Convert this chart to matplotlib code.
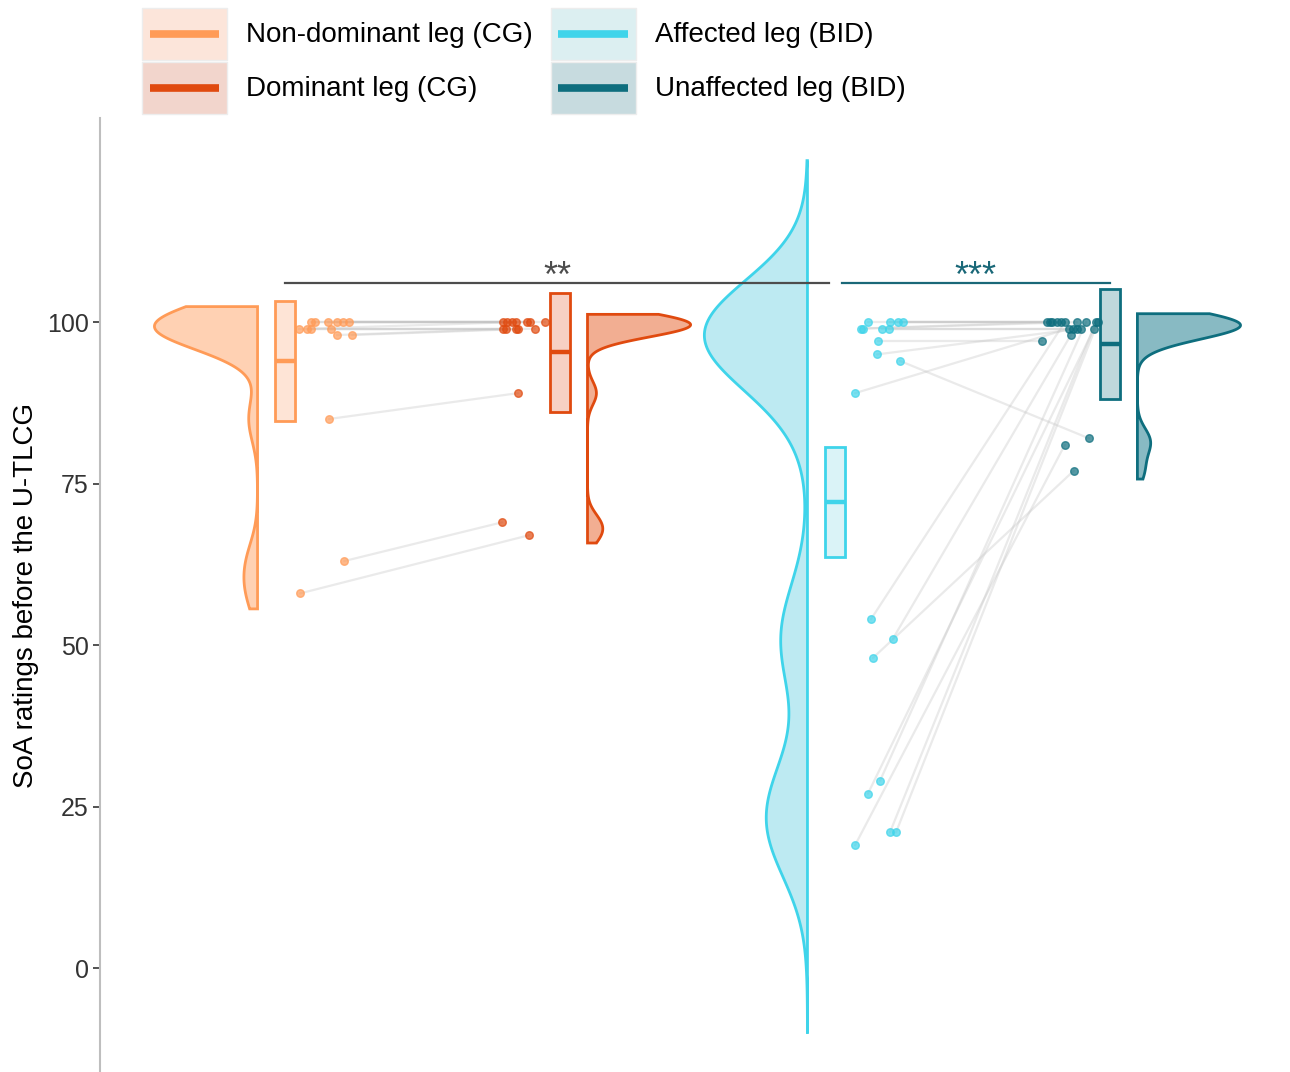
import numpy as np
import matplotlib
matplotlib.use("Agg")
import matplotlib.pyplot as plt
from matplotlib.patches import Rectangle
from matplotlib.lines import Line2D

plt.rcParams['font.family'] = ['Liberation Sans', 'DejaVu Sans']

# groups
labels = ["Non-dominant leg (CG)", "Dominant leg (CG)",
          "Affected leg (BID)", "Unaffected leg (BID)"]
colors = ["#FF9B57", "#E04A0F", "#3FD4EA", "#0E6E7E"]
cloud_fill = ["#FFD1B3", "#F2AE92", "#BDEAF2", "#88BAC3"]
box_fill = ["#FEE4D6", "#F7D0C3", "#DAF3F7", "#BFD8DC"]
key_fill = ["#FCE5DA", "#F2D5CC", "#DCEFF1", "#C7DBDF"]

# SoA ratings, paired by index within each group (CG: 1-2, BID: 3-4)
nondom_cg = [100, 100, 100, 100, 100, 100, 99, 99, 99, 99, 98, 98, 85, 63, 58]
dom_cg = [100, 100, 100, 100, 100, 100, 99, 99, 100, 99, 99, 99, 89, 69, 67]
affected_bid = [100, 100, 100, 100, 99, 99, 99, 99, 97, 95, 94, 89,
                54, 51, 48, 29, 27, 21, 21, 19]
unaffected_bid = [100, 100, 100, 100, 100, 100, 99, 99, 97, 99, 82, 99,
                  100, 98, 77, 100, 99, 100, 100, 81]

# box summaries (mean and interval)
box_mid = [94.0, 95.4, 72.1, 96.6]
box_lo = [84.7, 86.1, 63.6, 88.1]
box_hi = [103.3, 104.5, 80.7, 105.1]

# horizontal jitter of the dots
jit1 = [0.095, 0.109, 0.156, 0.189, 0.211, 0.233, 0.051, 0.080, 0.095, 0.167,
        0.189, 0.244, 0.160, 0.215, 0.055]
jit2 = [-0.207, -0.193, -0.175, -0.120, -0.109, -0.055, -0.207, -0.196, -0.160,
        -0.160, -0.153, -0.091, -0.153, -0.211, -0.113]
jit3 = [0.120, 0.200, 0.229, 0.247, 0.095, 0.102, 0.171, 0.196, 0.156, 0.153,
        0.236, 0.073, 0.131, 0.211, 0.138, 0.164, 0.120, 0.200, 0.222, 0.073]
jit4 = [-0.229, -0.211, -0.193, -0.178, -0.218, -0.120, -0.135, -0.120, -0.247,
        -0.105, -0.076, -0.149, -0.164, -0.142, -0.131, -0.087, -0.058, -0.051,
        -0.044, -0.164]

# kde bandwidth and how far past the data each cloud runs (below, above)
bandwidth = [3.5, 1.8, 8.0, 2.0]
cut_lo = [2.4, 1.2, 29.0, 1.3]
cut_hi = [2.4, 1.2, 25.0, 1.3]

sig_text = ["**", "***"]

groups = [nondom_cg, dom_cg, affected_bid, unaffected_bid]
jitters = [jit1, jit2, jit3, jit4]
positions = [1, 2, 3, 4]
side = [-1, 1, -1, 1]      # which way the half violin opens


def kde(vals, grid, bw):
    vals = np.asarray(vals, dtype=float)
    d = (grid[:, None] - vals[None, :]) / bw
    return np.exp(-0.5 * d ** 2).sum(axis=1)


class KeyHandler:
    # shaded square with a short thick bar across the middle
    def __init__(self, bg):
        self.bg = bg

    def legend_artist(self, legend, orig_handle, fontsize, handlebox):
        x0, y0 = -handlebox.xdescent, -handlebox.ydescent
        w, h = handlebox.width, handlebox.height
        rect = Rectangle((x0, y0), w, h, facecolor=self.bg,
                         edgecolor='#EDEDED', lw=1,
                         transform=handlebox.get_transform())
        bar = Line2D([x0 + 0.09 * w, x0 + 0.91 * w], [y0 + h / 2, y0 + h / 2],
                     color=orig_handle.get_color(), lw=5.5,
                     solid_capstyle='butt',
                     transform=handlebox.get_transform())
        handlebox.add_artist(rect)
        handlebox.add_artist(bar)
        return rect


fig = plt.figure(figsize=(12.9, 10.72), dpi=100)
ax = fig.add_axes([100 / 1290, 0, 1190 / 1290, (1072 - 118) / 1072])
ax.set_xlim(0.327, 4.655)
ax.set_ylim(-16.1, 131.6)

vwidth = 0.375
box_w = 0.073

# half violins
for i, vals in enumerate(groups):
    lo = min(vals) - cut_lo[i]
    hi = max(vals) + cut_hi[i]
    grid = np.linspace(lo, hi, 400)
    dens = kde(vals, grid, bandwidth[i])
    dens = dens / dens.max() * vwidth
    base = positions[i] + side[i] * 0.1
    xs = np.concatenate([[base], base + side[i] * dens, [base]])
    ys = np.concatenate([[lo], grid, [hi]])
    ax.fill(xs, ys, facecolor=cloud_fill[i], edgecolor=colors[i], lw=2,
            zorder=1)

# paired lines
pairs = [(0, 1), (2, 3)]
for a, b in pairs:
    for k in range(len(groups[a])):
        xa = positions[a] + jitters[a][k]
        xb = positions[b] + jitters[b][k]
        ax.plot([xa, xb], [groups[a][k], groups[b][k]], color='#C4C4C4',
                alpha=0.35, lw=1.6, zorder=2, solid_capstyle='round')

# dots
for i, vals in enumerate(groups):
    xs = positions[i] + np.array(jitters[i])
    ax.scatter(xs, vals, s=30, facecolor=colors[i], edgecolor=colors[i],
               alpha=0.7, lw=1, zorder=4)

# boxes
for i in range(4):
    ax.bar(positions[i], box_hi[i] - box_lo[i], bottom=box_lo[i], width=box_w,
           facecolor=box_fill[i], edgecolor=colors[i], lw=2, zorder=3)
    ax.plot([positions[i] - box_w / 2, positions[i] + box_w / 2],
            [box_mid[i], box_mid[i]], color=colors[i], lw=3.2, zorder=3.6,
            solid_capstyle='butt')

# significance brackets
ax.plot([1, 2.98], [106, 106], color='#4D4D4D', lw=1.6, zorder=5)
ax.text(1.99, 105.4, sig_text[0], ha='center', va='baseline', fontsize=26,
        color='#4D4D4D')
ax.plot([3.025, 4], [106, 106], color='#1A6878', lw=1.6, zorder=5)
ax.text(3.51, 105.4, sig_text[1], ha='center', va='baseline', fontsize=26,
        color='#1A6878')

# axes styling
for s in ['top', 'right', 'bottom']:
    ax.spines[s].set_visible(False)
ax.spines['left'].set_color('#BEBEBE')
ax.spines['left'].set_linewidth(1.5)
ax.set_xticks([])
ax.set_yticks([0, 25, 50, 75, 100])
ax.tick_params(axis='y', labelsize=18, labelcolor='#333333', color='#333333',
               length=5, width=1.2, pad=3)
ax.set_ylabel("SoA ratings before the U-TLCG", fontsize=20, labelpad=6)

# legend
handles = [Line2D([], [], color=c) for c in colors]
hmap = {h: KeyHandler(key_fill[i]) for i, h in enumerate(handles)}
fig.legend(handles, labels, ncol=2, loc='upper left',
           bbox_to_anchor=(142 / 1290, 1 - 8 / 1072), frameon=False,
           fontsize=20, handlelength=3.06, handleheight=2.5,
           handletextpad=0.68, columnspacing=0.65, labelspacing=0.07,
           borderpad=0, borderaxespad=0, handler_map=hmap)

fig.savefig("out.png", dpi=100)
